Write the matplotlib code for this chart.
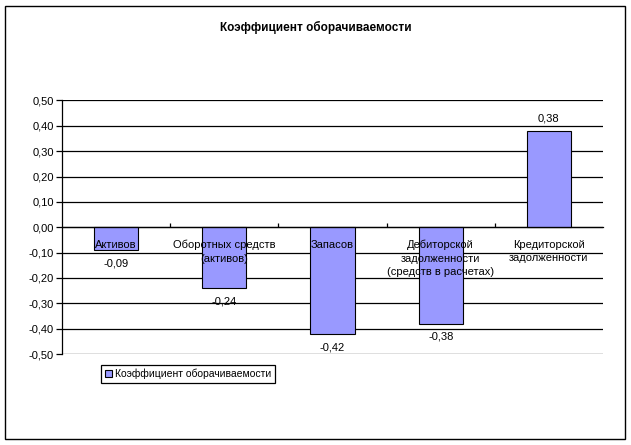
import matplotlib
matplotlib.use("Agg")
import matplotlib.pyplot as plt
import matplotlib.patches as patches
from matplotlib.ticker import FuncFormatter, FixedLocator
import numpy as np

plt.rcParams['font.family'] = ['Liberation Sans', 'DejaVu Sans']

categories = ["Активов", "Оборотных средств\n(активов)", "Запасов",
              "Дебиторской\nзадолженности\n(средств в расчетах)",
              "Кредиторской\nзадолженности"]
values = [-0.09, -0.24, -0.42, -0.38, 0.38]
series_name = "Коэффициент оборачиваемости"
y_ticks = [-0.5, -0.4, -0.3, -0.2, -0.1, 0.0, 0.1, 0.2, 0.3, 0.4, 0.5]

fig = plt.figure(figsize=(6.31, 4.45), dpi=100)
# outer chart border
fig.patches.append(patches.Rectangle((5 / 631, 6 / 445), 620 / 631, 433 / 445,
                                     transform=fig.transFigure, fill=False,
                                     edgecolor='black', linewidth=1))

ax = fig.add_axes([62 / 631, 1 - 354 / 445, 541 / 631, 253.5 / 445])
x = np.arange(len(values))
bars = ax.bar(x, values, width=0.41, color='#9999FF', edgecolor='black',
              linewidth=0.8, zorder=3)

ax.set_xlim(-0.5, len(values) - 0.5)
ax.set_ylim(-0.5, 0.5)
ax.set_yticks(y_ticks)
ax.yaxis.set_major_formatter(FuncFormatter(lambda v, p: ("%.2f" % v).replace('.', ',')))
ax.grid(axis='y', color='black', linewidth=0.9, zorder=1)
ax.tick_params(axis='y', labelsize=8, length=4, width=0.9, pad=2)

for s in ['top', 'right']:
    ax.spines[s].set_visible(False)
ax.spines['left'].set_linewidth(0.9)
ax.spines['bottom'].set_position(('data', 0))
ax.spines['bottom'].set_linewidth(0.9)
ax.spines['bottom'].set_zorder(4)

ax.set_xticks(x)
ax.set_xticklabels(categories, fontsize=8, linespacing=1.45)
ax.tick_params(axis='x', which='major', length=0, pad=9)
ax.xaxis.set_minor_locator(FixedLocator(np.arange(0.5, len(values) - 0.5, 1)))
ax.tick_params(axis='x', which='minor', direction='in', length=3, width=0.9)
ax.xaxis.set_zorder(5)

for b, v in zip(bars, values):
    off = 5 if v > 0 else -6
    ax.annotate(("%.2f" % v).replace('.', ','), (b.get_x() + b.get_width() / 2, v),
                xytext=(0, off), textcoords='offset points', ha='center',
                va='bottom' if v > 0 else 'top', fontsize=8, zorder=5)

fig.suptitle("Коэффициент оборачиваемости", y=1 - 27 / 445, va='center',
             fontsize=8.5, fontweight='bold')

fig.legend(bars[:1], [series_name], loc='upper left',
           bbox_to_anchor=(101 / 631, 1 - 365 / 445), borderaxespad=0,
           fancybox=False, edgecolor='black', framealpha=1, fontsize=7.5,
           handlelength=0.7, handleheight=0.7, handletextpad=0.3,
           borderpad=0.35).get_frame().set_linewidth(0.9)

fig.savefig("out.png", dpi=100)
